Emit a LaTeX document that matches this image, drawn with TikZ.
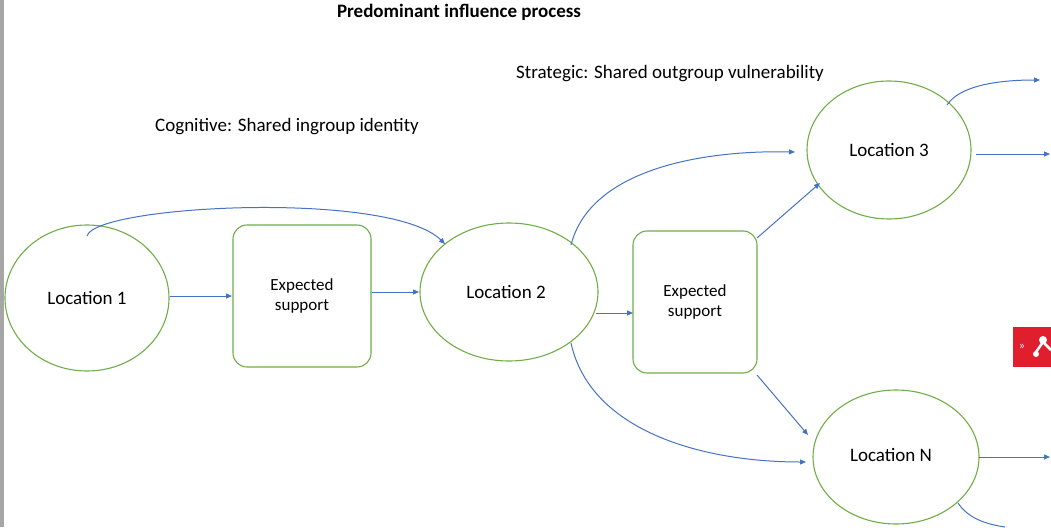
\documentclass[tikz,border=0pt]{standalone}
\usepackage{fontspec}
\setmainfont{Carlito}
\usetikzlibrary{arrows.meta}
\definecolor{gr}{RGB}{112,173,71}
\definecolor{bl}{RGB}{68,114,196}
\definecolor{badge}{RGB}{224,30,45}
\begin{document}
\begin{tikzpicture}[x=1pt,y=-1pt,
  loc/.style={draw=gr,line width=1.1pt},
  sbox/.style={draw=gr,line width=1.1pt,rounded corners=14pt,align=center,font=\fontsize{17}{20}\selectfont},
  arr/.style={draw=bl,line width=1pt,-{Triangle[length=6pt,width=5pt]}},
  lbl/.style={font=\fontsize{19}{22}\selectfont,anchor=center}]
\useasboundingbox (0,0) rectangle (1051,527);
\fill[gray!70] (0,0) rectangle (4,527);
\node[lbl,font=\bfseries\fontsize{19}{22}\selectfont] (title) at (459,12) {Predominant influence process};
\node[lbl] (strat) at (670,74) {Strategic: Shared outgroup vulnerability};
\node[lbl] (cog) at (287,127) {Cognitive: Shared ingroup identity};
\draw[loc] (87,298) ellipse (82 and 73);
\node[lbl] (l1) at (87,298) {Location 1};
\node[sbox,minimum width=138pt,minimum height=142pt] (b1) at (302,296) {Expected\\support};
\draw[loc] (509,292) ellipse (89 and 69);
\node[lbl] (l2) at (506,292) {Location 2};
\node[sbox,minimum width=124pt,minimum height=142pt] (b2) at (695,302) {Expected\\support};
\draw[loc] (889,150) ellipse (82 and 69);
\node[lbl] (l3) at (889,150) {Location 3};
\draw[loc] (896,457) ellipse (83 and 67);
\node[lbl] (ln) at (891,455) {Location N};
\coordinate (a1) at (170,296); \coordinate (a1e) at (232,296);
\coordinate (a2) at (372,292); \coordinate (a2e) at (419,292);
\coordinate (a3) at (87,236); \coordinate (a3e) at (445,244);
\coordinate (a4) at (596,313); \coordinate (a4e) at (633,313);
\coordinate (a5) at (571,245); \coordinate (a5e) at (795,152);
\coordinate (a6) at (571,343); \coordinate (a6e) at (806,462);
\coordinate (a7) at (757,238); \coordinate (a7e) at (820,183);
\coordinate (a8) at (757,375); \coordinate (a8e) at (808,435);
\coordinate (a9) at (976,154); \coordinate (a9e) at (1050,154);
\coordinate (a10) at (947,105); \coordinate (a10e) at (1040,80);
\coordinate (a11) at (979,457); \coordinate (a11e) at (1050,457);
\coordinate (a12) at (958,503); \coordinate (a12e) at (1005,527);
\draw[arr] (a1) -- (a1e);
\draw[arr] (a2) -- (a2e);
\draw[arr] (a3) .. controls (95,205) and (390,190) .. (a3e);
\draw[arr] (a4) -- (a4e);
\draw[arr] (a5) .. controls (590,170) and (700,150) .. (a5e);
\draw[arr] (a6) .. controls (590,430) and (700,462) .. (a6e);
\draw[arr] (a7) -- (a7e);
\draw[arr] (a8) -- (a8e);
\draw[arr] (a9) -- (a9e);
\draw[arr] (a10) .. controls (960,85) and (1000,80) .. (a10e);
\draw[arr] (a11) -- (a11e);
\draw[draw=bl,line width=1pt] (a12) .. controls (968,518) and (985,524) .. (a12e);
\fill[badge] (1013,327) rectangle (1051,367);
\node[text=white,font=\fontsize{12}{12}\selectfont] (bg) at (1022,347) {»};
\draw[white,line width=2.5pt] (1036,352) -- (1043,342) -- (1051,350);
\fill[white] (1043,340) circle (4) (1036,354) circle (3);
\end{tikzpicture}
\end{document}
